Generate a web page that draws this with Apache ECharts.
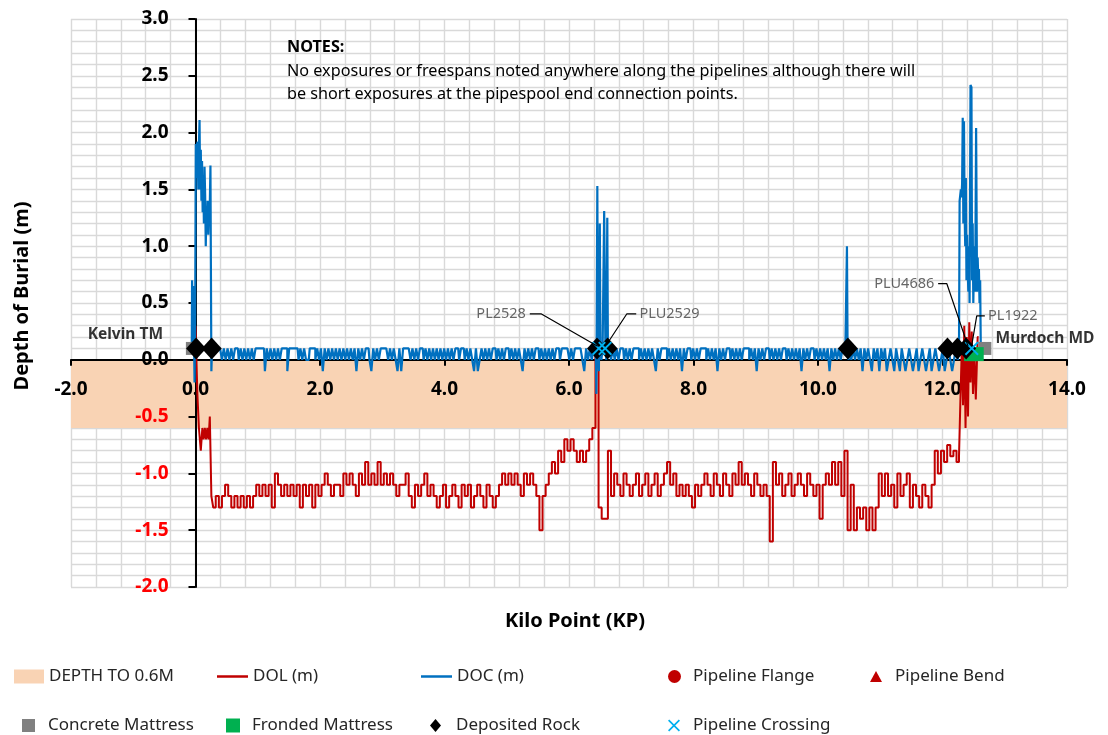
<!DOCTYPE html>
<html>
<head>
<meta charset="utf-8">
<script src="https://cdn.jsdelivr.net/npm/echarts@6/dist/echarts.min.js"></script>
<style>html,body{margin:0;padding:0;background:#fff;}#chart{width:1108px;height:735px;}</style>
</head>
<body>
<div id="chart"></div>
<script>
// ---------------- DATA ----------------
const xTickLabels = ['-2.0','0.0','2.0','4.0','6.0','8.0','10.0','12.0','14.0'];
const depthBand = [[-2, -0.6], [14, -0.6]];

// DOL (m): start of line, regular samples, end cluster
const dolLeft = [[0.0,0.3],[0.02,0.1],[0.04,-0.3],[0.07,-0.6],[0.10,-0.8],[0.12,-0.6],[0.14,-0.7],[0.16,-0.6],[0.18,-0.7],[0.20,-0.6],[0.22,-0.7],[0.24,-0.5],[0.27,-1.2]];
const dolGridStartKP = 0.30, dolGridStepKP = 0.05;
const dolGrid = [
-1.3,-1.2,-1.3,-1.2,-1.1,-1.2,-1.3,-1.2,-1.3,-1.2,
-1.3,-1.2,-1.3,-1.2,-1.1,-1.2,-1.1,-1.2,-1.1,-1.3,
-1.0,-1.1,-1.2,-1.1,-1.2,-1.1,-1.2,-1.1,-1.3,-1.1,
-1.2,-1.1,-1.3,-1.1,-1.2,-1.1,-1.0,-1.1,-1.2,-1.1,
-1.1,-1.2,-1.0,-1.1,-1.0,-1.1,-1.2,-1.0,-1.1,-0.9,
-1.1,-1.0,-1.1,-0.9,-1.1,-1.0,-1.1,-1.0,-1.1,-1.2,
-1.1,-1.1,-1.0,-1.2,-1.3,-1.1,-1.2,-1.1,-1.0,-1.2,
-1.1,-1.2,-1.3,-1.2,-1.1,-1.3,-1.2,-1.1,-1.2,-1.3,
-1.1,-1.2,-1.1,-1.3,-1.2,-1.1,-1.2,-1.3,-1.1,-1.2,
-1.3,-1.2,-1.1,-1.0,-1.1,-1.0,-1.1,-1.0,-1.1,-1.2,
-1.0,-1.1,-1.0,-1.1,-1.2,-1.5,-1.2,-1.1,-1.0,-0.9,
-1.0,-0.8,-0.9,-0.7,-0.8,-0.7,-0.8,-0.9,-0.8,-0.9,
-0.8,-0.7,-0.6,0.1,-1.3,-1.4,-1.4,-0.8,-1.2,-1.0,
-1.1,-1.2,-1.0,-1.1,-1.2,-1.1,-1.0,-1.2,-1.1,-1.0,
-1.2,-1.1,-1.0,-1.2,-1.1,-1.0,-0.9,-1.1,-1.0,-1.2,
-1.1,-1.2,-1.1,-1.2,-1.3,-1.1,-1.2,-1.1,-1.0,-1.1,
-1.2,-1.0,-1.1,-1.2,-1.0,-1.1,-1.2,-1.0,-1.1,-0.9,
-1.1,-1.0,-1.1,-1.2,-1.0,-1.1,-1.2,-1.1,-1.2,-1.6,
-0.9,-1.1,-1.0,-1.2,-1.1,-1.0,-1.2,-1.1,-1.0,-1.1,
-1.2,-1.0,-1.1,-1.2,-1.1,-1.4,-1.1,-1.0,-1.1,-0.9,
-1.1,-0.9,-1.2,-0.8,-1.5,-1.1,-1.5,-1.3,-1.4,-1.3,
-1.5,-1.3,-1.5,-1.3,-1.0,-1.2,-1.0,-1.2,-1.1,-1.3,
-1.0,-1.2,-1.1,-1.0,-1.3,-1.1,-1.2,-1.3,-1.1,-1.2,
-1.3,-1.1,-0.8,-1.0,-0.8,-0.9,-0.75,-0.85,-0.8,-0.9];
const dolRight = [[12.28,-0.85],[12.30,-0.3],[12.32,0.1],[12.34,-0.4],[12.36,0.3],[12.38,-0.6],[12.40,0.2],[12.42,-0.5],[12.44,0.33],[12.46,-0.2],[12.48,0.25],[12.50,-0.3],[12.52,0.1],[12.55,-0.35],[12.58,0.2]];

// DOC (m)
const docLeft = [[-0.06,0.1],[-0.05,0.7],[-0.04,0.5],[-0.03,0.65],[-0.02,0.2],[-0.01,-0.2],[0.0,0.4],[0.01,1.9],[0.02,1.6],[0.03,1.9],[0.04,1.92],[0.05,1.5],[0.06,1.9],[0.07,2.11],[0.08,1.5],[0.09,1.85],[0.10,1.4],[0.11,1.75],[0.12,1.3],[0.13,1.6],[0.14,1.2],[0.15,1.7],[0.16,1.45],[0.17,1.0],[0.18,1.35],[0.19,1.15],[0.20,1.4],[0.21,1.1],[0.22,1.3],[0.23,1.2],[0.25,1.71],[0.26,-0.1],[0.27,0.1],[0.29,0.1]];
const docStepKP = 0.03;
const docSegAStartKP = 0.32;
const docSegA = [
0.1,0.1,0.1,0.1,0,0.1,0,0.1,0,0.1,
0,0.1,0.1,0,0.1,0,0.1,0,0.1,0,
0.1,0,0.1,0.1,0.1,0.1,0.1,-0.1,0.1,0,
0.1,0,0.1,0,0.1,0,0.1,0.1,0.1,-0.1,
0.1,0.1,0.1,0.1,0.1,0,0.1,0,0.1,0,
0,0.1,0.1,0.1,0,0.1,0,0.1,-0.1,0.1,
0,0.1,0,0.1,0,0.1,0,0.1,0,0.1,
0,0.1,0,0.1,0,0.1,-0.1,0.1,0,0.1,
0,0.1,0.1,0,-0.1,0.1,0,0.1,0,0.1,
0.1,0.1,0.1,0,0.1,0,0.1,0,-0.1,0.1,
-0.1,0.1,0.1,0.1,0.1,0,0.1,0,0.1,0,
0.1,0.1,0,0.1,0,0.1,0,0.1,0,0.1,
0,0.1,0,0.1,0,0.1,0,0.1,0,0.1,
0.1,0,0.1,0.1,0,0.1,0,0.1,0,-0.1,
0.1,-0.1,0,0.1,0,0.1,0,0.1,0,0.1,
0.1,0,0.1,0,0.1,0,0.1,0.1,0,0.1,
0,0.1,0,0.1,0,-0.1,0.1,0,0.1,0,
0.1,0,0.1,0.1,0,0.1,0,0.1,0,0.1,
0,0.1,0,0.1,0.1,0,0.1,0.1,0.1,0.1,
0,0.1,0,0.1,0.1,0.1,0.1,0,-0.1,0.1,
0,0.1,0,0.1];
const docSpike6 = [[6.43,0.1],[6.45,-0.3],[6.46,1.53],[6.47,0.1],[6.49,-0.1],[6.50,1.2],[6.51,0.1],[6.53,0],[6.55,0.1],[6.58,1.31],[6.59,0.1],[6.61,0],[6.62,1.25],[6.63,0.1]];
const docSegBStartKP = 6.66;
const docSegB = [
0.1,0,0.1,0,0.1,0,0.1,0.1,0,0.1,
0,0.1,0,0.1,0.1,0.1,0,0.1,0,0.1,
0,0.1,0,0.1,0,-0.1,0.1,0,0.1,0.1,
0.1,0,0.1,0,0.1,0,0.1,0,0.1,-0.1,
0.1,0,0.1,0.1,0,0.1,0,0.1,0,0.1,
0.1,0.1,0,0.1,0,0.1,0,0.1,-0.1,0.1,
0,0.1,0,0.1,0.1,0,0.1,0,0.1,0,
0.1,0,0.1,0.1,0.1,0,0.1,0,0.1,-0.1,
0.1,0,0.1,0,0.1,0.1,0,0.1,0,0.1,
0,0.1,0,0.1,0.1,0,0.1,0,0.1,0,
0.1,0,0.1,-0.1,0.1,0,0.1,0,0.1,0.1,
0,0.1,0,0.1,0,0.1,0,0.1,-0.1,0.1,
0,0.1,0,0.1,0,0.1,0.1];
const docSpike10 = [[10.46,0.1],[10.47,1.0],[10.48,0.1],[10.50,0]];
const docSegCStartKP = 10.52;
const docSegC = [
0.1,0,0.1,0,0.1,0,0.1,-0.1,0.1,0,
0.1,0,-0.1,0.1,0,0.1,-0.1,0.1,0,0.1,
-0.1,0,0.1,0,-0.1,0.1,0,-0.1,0.1,0,
-0.1,0,0.1,0,-0.1,0,0.1,-0.1,0,0.1,
0,-0.1,0,0.1,-0.1,0,0.1,0,-0.1,0,
0.1,-0.1,0,0.1,0,-0.1,0,0.1,0];
const docRight = [[12.27,0.1],[12.28,1.4],[12.29,1.45],[12.30,1.5],[12.31,1.43],[12.32,1.55],[12.33,2.13],[12.34,1.2],[12.35,2.1],[12.36,1.3],[12.37,1.0],[12.38,1.6],[12.39,0.7],[12.40,1.1],[12.41,0.8],[12.42,0.6],[12.43,1.0],[12.44,0.5],[12.46,2.42],[12.47,2.4],[12.48,0.7],[12.49,1.2],[12.50,0.5],[12.52,1.0],[12.53,0.6],[12.55,2.04],[12.56,0.6],[12.57,0.9],[12.58,0.7],[12.59,0.8],[12.60,0.5],[12.61,0.7],[12.62,0.1]];

// point features
const pipelineFlange = [];
const pipelineBend = [];
const concreteMattress = [[-0.05,0.1],[12.68,0.1]];
const frondedMattress = [[12.46,0.05],[12.55,0.05]];
const depositedRock = [[0.01,0.1],[0.26,0.1],[6.45,0.1],[6.62,0.1],[10.48,0.1],[12.08,0.1],[12.24,0.1],[12.38,0.1]];
const pipelineCrossing = [[6.48,0.1],[6.58,0.1],[12.47,0.1]];

// annotations: [kp, depth, text, side]
const crossingLabels = [[5.34,0.405,'PL2528','left'],[7.10,0.405,'PLU2529','right'],[11.90,0.67,'PLU4686','left'],[12.70,0.387,'PL1922','right']];
const leaderLines = [
  [[5.37,0.405],[5.55,0.405],[6.46,0.12]],
  [[7.08,0.405],[6.93,0.405],[6.60,0.13]],
  [[11.93,0.67],[12.07,0.67],[12.41,0.12]],
  [[12.68,0.387],[12.55,0.387],[12.47,0.13]]
];
const endLabels = [[-0.49,0.218,'Kelvin TM','left'],[12.82,0.19,'Murdoch MD','right']];
const notesLines = ['NOTES:','No exposures or freespans noted anywhere along the pipelines although there will','be short exposures at the pipespool end connection points.'];

// ---------------- BUILD ----------------
function gridToPairs(start, step, vals){ return vals.map((v,i)=>[+(start+i*step).toFixed(3), v]); }
const dolData = dolLeft.concat(gridToPairs(dolGridStartKP, dolGridStepKP, dolGrid), dolRight);
const docData = docLeft.concat(
  gridToPairs(docSegAStartKP, docStepKP, docSegA), docSpike6,
  gridToPairs(docSegBStartKP, docStepKP, docSegB), docSpike10,
  gridToPairs(docSegCStartKP, docStepKP, docSegC), docRight);

const W = 1108, H = 735;
const G = {left:71, right:41, top:19, bottom:148};
const X_MIN = -2, X_MAX = 14, Y_MIN = -2, Y_MAX = 3;
const plotW = W - G.left - G.right, plotH = H - G.top - G.bottom;
// place the labelled axes through the origin (axis crossing at 0)
const yAxisOffset = -((0 - X_MIN) / (X_MAX - X_MIN)) * plotW;
const xAxisOffset = -((0 - Y_MIN) / (Y_MAX - Y_MIN)) * plotH;

const FONT = 'Noto Sans';
const gridLine = {show:true, lineStyle:{color:'#d9d9d9', width:1.4}};
const crossPath = 'path://M0,1L1,0L5,4L9,0L10,1L6,5L10,9L9,10L5,6L1,10L0,9L4,5Z';
const solid = (c)=>({color:c, opacity:1});

const series = [
  {name:'DEPTH TO 0.6M', type:'line', data:depthBand, symbol:'none', color:'#f9d3b4',
   lineStyle:{width:0}, areaStyle:{color:'#f9d3b4', opacity:1}, silent:true, z:1},
  {name:'DOL (m)', type:'line', data:dolData, symbol:'none', showSymbol:false, step:'middle', color:'#c00000',
   lineStyle:{color:'#c00000', width:2}, z:3},
  {name:'DOC (m)', type:'line', data:docData, symbol:'none', showSymbol:false, step:'middle', color:'#0070c0',
   lineStyle:{color:'#0070c0', width:2.2}, z:4},
  {name:'Pipeline Flange', type:'scatter', data:pipelineFlange, symbol:'circle', symbolSize:13, itemStyle:solid('#c00000'), z:5},
  {name:'Pipeline Bend', type:'scatter', data:pipelineBend, symbol:'triangle', symbolSize:13, itemStyle:solid('#c00000'), z:5},
  {name:'Concrete Mattress', type:'scatter', data:concreteMattress, symbol:'rect', symbolSize:13, itemStyle:solid('#808080'), z:5},
  {name:'Fronded Mattress', type:'scatter', data:frondedMattress, symbol:'rect', symbolSize:14, itemStyle:solid('#00b050'), z:5},
  {name:'Deposited Rock', type:'scatter', data:depositedRock, symbol:'diamond', symbolSize:[20,22], itemStyle:solid('#000'), z:6},
  {name:'Pipeline Crossing', type:'scatter', data:pipelineCrossing, symbol:crossPath, symbolSize:14, itemStyle:solid('#00b0f0'), z:7}
];
leaderLines.forEach((pts,i)=>series.push({name:'leader'+i, type:'line', data:pts, symbol:'none', silent:true,
  lineStyle:{color:'#000', width:1.2}, z:8}));
series.push({name:'crossingLabels', type:'scatter', symbolSize:0, silent:true, z:9,
  data: crossingLabels.map(d=>({value:[d[0],d[1]], label:{show:true, position:d[3], distance:2, formatter:d[2],
    fontFamily:FONT, fontSize:14.5, color:'#404040'}}))});
series.push({name:'endLabels', type:'scatter', symbolSize:0, silent:true, z:9,
  data: endLabels.map(d=>({value:[d[0],d[1]], label:{show:true, position:d[3], distance:2, formatter:d[2],
    fontFamily:FONT, fontSize:15.5, fontWeight:'bold', color:'#000'}}))});

// [name, iconLeft, rowCenterY, iconW, iconH, icon, textPadLeft]
const legendItems = [
  ['DEPTH TO 0.6M', 14, 675, 30, 14, 'rect', 0],
  ['DOL (m)', 217, 675, 31, 2.5, 'rect', 0],
  ['DOC (m)', 421, 675, 31, 2.5, 'rect', 0],
  ['Pipeline Flange', 668, 675, 13, 13, 'circle', 7],
  ['Pipeline Bend', 870, 675, 12, 11, 'triangle', 8],
  ['Concrete Mattress', 22, 724, 13, 13, 'rect', 8],
  ['Fronded Mattress', 226, 724, 14, 14, 'rect', 7],
  ['Deposited Rock', 430, 724, 11, 13, 'diamond', 10],
  ['Pipeline Crossing', 668, 724, 12, 12, crossPath, 8]
];
const legends = legendItems.map(l=>({
  left:l[1], top:l[2] - Math.max(l[4], 14)/2, itemWidth:l[3], itemHeight:l[4], selectedMode:false, padding:0,
  data:[{name:l[0], icon:l[5]}],
  textStyle:{fontFamily:FONT, fontSize:17, color:'#262626', padding:[0,0,0,l[6]]}
}));

const hidden = {show:false};
const option = {
  animation:false,
  backgroundColor:'#fff',
  grid:{left:G.left, right:G.right, top:G.top, bottom:G.bottom, containLabel:false, outerBoundsMode:'none'},
  legend:legends,
  xAxis:[
    // labelled axis through y = 0, drawn above the depth band
    {type:'value', min:X_MIN, max:X_MAX, interval:2, position:'bottom', offset:xAxisOffset, z:2,
     axisLine:{onZero:false, lineStyle:{color:'#000', width:2}},
     axisTick:{show:true, length:6, lineStyle:{color:'#000', width:2}},
     axisLabel:{margin:20, fontFamily:FONT, fontSize:19, fontWeight:'bold', color:'#000',
       showMinLabel:true, showMaxLabel:true, formatter:(v)=>{const k=Math.round((v-X_MIN)/2); return xTickLabels[k] ?? v.toFixed(1);}},
     splitLine:hidden},
    // gridline-only axis, drawn beneath the band
    {type:'value', min:X_MIN, max:X_MAX, interval:2, position:'top', z:0,
     axisLine:hidden, axisTick:hidden, axisLabel:hidden,
     splitLine:gridLine, minorTick:{show:false, splitNumber:5}, minorSplitLine:gridLine}
  ],
  yAxis:[
    {type:'value', min:Y_MIN, max:Y_MAX, interval:0.5, position:'left', offset:yAxisOffset, z:2,
     axisLine:{show:true, onZero:false, lineStyle:{color:'#000', width:2}},
     axisTick:{show:true, length:7, lineStyle:{color:'#000', width:2}},
     axisLabel:{margin:27, fontFamily:FONT, fontSize:19, fontWeight:'bold',
       showMinLabel:true, showMaxLabel:true,
       formatter:(v)=> v < -0.001 ? '{n|'+v.toFixed(1)+'}' : '{p|'+Math.abs(v).toFixed(1)+'}',
       rich:{n:{color:'#ff0000', fontFamily:FONT, fontSize:19, fontWeight:'bold'},
             p:{color:'#000', fontFamily:FONT, fontSize:19, fontWeight:'bold'}}},
     splitLine:hidden},
    {type:'value', min:Y_MIN, max:Y_MAX, interval:0.5, position:'right', z:0,
     axisLine:hidden, axisTick:hidden, axisLabel:hidden,
     splitLine:gridLine, minorTick:{show:false, splitNumber:5}, minorSplitLine:gridLine}
  ],
  graphic:[
    {type:'text', left:287, top:36, z:100, style:{
      text:'{b|'+notesLines[0]+'}\n'+notesLines[1]+'\n'+notesLines[2],
      font:'16.2px "Noto Sans"', fill:'#000', lineHeight:23.5,
      rich:{b:{fontWeight:'bold', fontFamily:FONT, fontSize:16.2, lineHeight:23.5}}}},
    {type:'text', x:22, y:296, rotation:Math.PI/2, z:100, style:{text:'Depth of Burial (m)',
      font:'bold 20px "Noto Sans"', fill:'#000', align:'center', verticalAlign:'middle'}},
    {type:'text', x:575, y:621, z:100, style:{text:'Kilo Point (KP)',
      font:'bold 20px "Noto Sans"', fill:'#000', align:'center', verticalAlign:'middle'}}
  ],
  series:series
};
const chart = echarts.init(document.getElementById('chart'), null, {renderer:'canvas'});
chart.setOption(option);
</script>
</body>
</html>
